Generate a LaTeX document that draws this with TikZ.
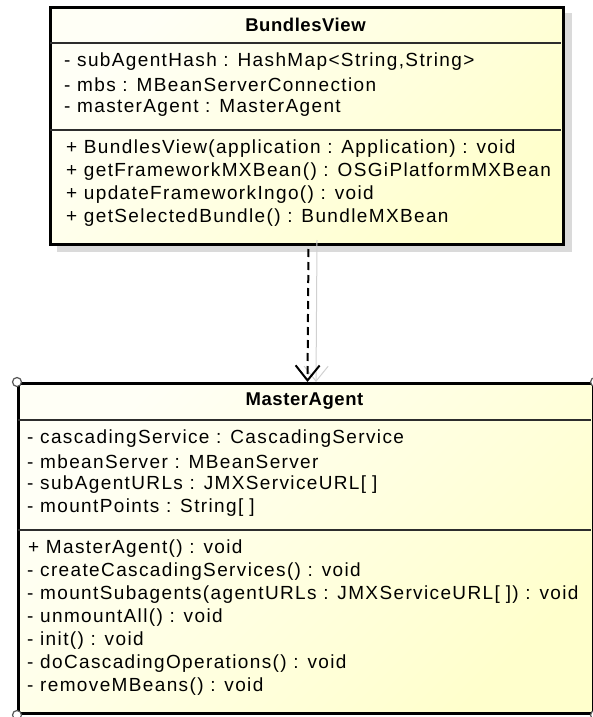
\documentclass[tikz,border=0pt]{standalone}
\usepackage{fontspec}
\setmainfont{Liberation Sans}
\newfontfamily\memberfont[LetterSpace=7.2]{Liberation Sans}
\newfontfamily\titlefont[LetterSpace=3]{Liberation Sans}
\usetikzlibrary{arrows.meta}

\definecolor{umlLight}{RGB}{255,255,246}
\definecolor{umlDark}{RGB}{255,255,204}
\definecolor{shadowGrey}{RGB}{218,218,218}
\definecolor{sepGrey}{RGB}{45,45,45}
\newcommand{\arr}{[\hspace{6pt}]}

\begin{document}
\begin{tikzpicture}[x=1pt,y=-1pt,
  classbox/.style={draw=black, line width=3pt, top color=umlLight, bottom color=umlDark,
    shading angle=45, inner sep=0pt, anchor=north west},
  member/.style={anchor=west, inner sep=0pt, font=\memberfont\fontsize{19}{22}\selectfont},
  classname/.style={inner sep=0pt, font=\titlefont\fontsize{18.5}{22}\selectfont\bfseries},
  separator/.style={draw=sepGrey, line width=2pt},
  dependency/.style={line width=2pt, dash pattern=on 8pt off 5pt,
    -{Straight Barb[length=15pt,width=24pt,line width=2pt]}},
  depshadow/.style={draw=black!18, line width=1pt,
    -{Straight Barb[length=15pt,width=24pt,line width=1pt]}},
  handle/.style={draw=black!65, fill=white, line width=1.2pt}]

\useasboundingbox (0,0) rectangle (592,717);

% ---------- BundlesView ----------
\fill[shadowGrey] (57,13) rectangle (572,252);
\node[classbox, minimum width=513pt, minimum height=237pt] (bv) at (49,6) {};
\draw[separator] (50,43) -- (561,43);
\draw[separator] (50,130) -- (561,130);
\node[classname] (bvname) at (305.5,25) {BundlesView};
\node[member] (bva1) at (64,62)  {- subAgentHash : HashMap<String,String>};
\node[member] (bva2) at (64,85)  {- mbs : MBeanServerConnection};
\node[member] (bva3) at (64,108) {- masterAgent : MasterAgent};
\node[member] (bvm1) at (66,149) {+ BundlesView(application : Application) : void};
\node[member] (bvm2) at (66,172) {+ getFrameworkMXBean() : OSGiPlatformMXBean};
\node[member] (bvm3) at (66,195) {+ updateFrameworkIngo() : void};
\node[member] (bvm4) at (66,218) {+ getSelectedBundle() : BundleMXBean};

% ---------- MasterAgent ----------
\node[classbox, minimum width=575pt, minimum height=330pt] (ma) at (17,382) {};
\draw[separator] (18,420) -- (591,420);
\draw[separator] (18,530) -- (591,530);
\node[classname] (maname) at (304.5,401) {MasterAgent};
\node[member] (maa1) at (27,439) {- cascadingService : CascadingService};
\node[member] (maa2) at (27,462) {- mbeanServer : MBeanServer};
\node[member] (maa3) at (27,485) {- subAgentURLs : JMXServiceURL\arr};
\node[member] (maa4) at (27,508) {- mountPoints : String\arr};
\node[member] (mam1) at (28,549) {+ MasterAgent() : void};
\node[member] (mam2) at (27,572) {- createCascadingServices() : void};
\node[member] (mam3) at (27,595) {- mountSubagents(agentURLs : JMXServiceURL\arr) : void};
\node[member] (mam4) at (27,618) {- unmountAll() : void};
\node[member] (mam5) at (27,641) {- init() : void};
\node[member] (mam6) at (27,664) {- doCascadingOperations() : void};
\node[member] (mam7) at (27,687) {- removeMBeans() : void};

% selection handles on the corners
\foreach \c in {north west, north east, south west, south east}
  \draw[handle] (ma.\c) circle (4.5pt);

% ---------- dependency BundlesView -> MasterAgent ----------
\draw[depshadow] ([xshift=10pt,yshift=6pt]bv.south) -- ([xshift=10pt]ma.north);
\draw[dependency, shorten <=3pt] ([xshift=1.5pt]bv.south) -- ([xshift=1.5pt]ma.north);

\end{tikzpicture}
\end{document}
